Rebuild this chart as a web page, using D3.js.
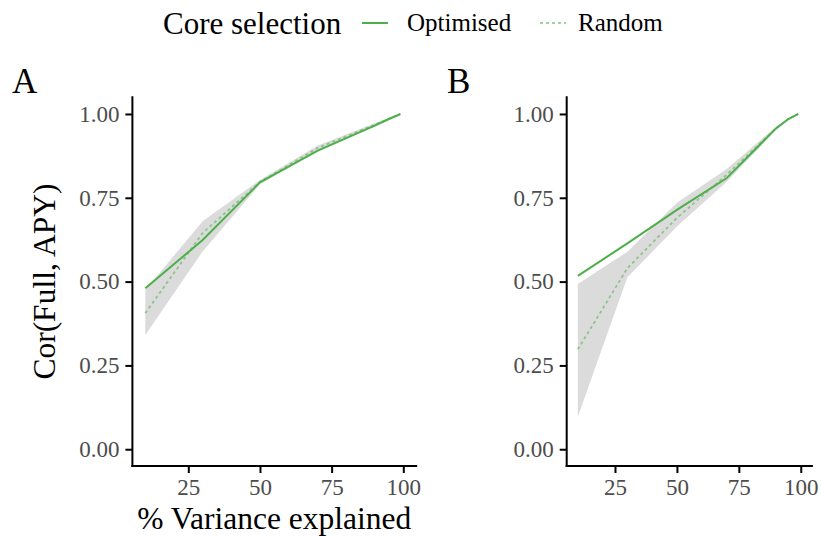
<!DOCTYPE html>
<html>
<head>
<meta charset="utf-8">
<script src="https://cdn.jsdelivr.net/npm/d3@7"></script>
<style>
  html, body { margin: 0; padding: 0; background: #fff; }
  svg { display: block; font-family: "Liberation Serif", "Times New Roman", serif; }
</style>
</head>
<body>
<svg id="chart" width="821" height="536"></svg>
<script>
// ---- data ----
const variance = [10, 30, 50, 70, 90, 95, 99];
const panels = ["A", "B"];
const optimisedA = [0.480, 0.624, 0.796, 0.890, 0.965, 0.985, 1.000];
const randomA    = [0.406, 0.645, 0.797, 0.898, 0.968, 0.986, 1.000];
const randomLoA  = [0.341, 0.590, 0.790, 0.890, 0.962, 0.983, 0.999];
const randomHiA  = [0.475, 0.680, 0.803, 0.905, 0.972, 0.988, 1.000];
const optimisedB = [0.517, 0.614, 0.714, 0.808, 0.957, 0.985, 1.000];
const randomB    = [0.298, 0.540, 0.690, 0.818, 0.957, 0.985, 1.000];
const randomLoB  = [0.097, 0.513, 0.664, 0.797, 0.952, 0.982, 0.999];
const randomHiB  = [0.493, 0.589, 0.735, 0.835, 0.962, 0.988, 1.000];
const xTicks = [25, 50, 75, 100];
const yTicks = [0, 0.25, 0.5, 0.75, 1.0];
const seriesNames = ["Optimised", "Random"];

const colOpt = "#4DAF4A";
const svg = d3.select("#chart");

const panelDefs = [
  {label: "A", x0: 132.4, x1: 416.2, labelX: 12, opt: optimisedA, rnd: randomA, lo: randomLoA, hi: randomHiA, yTitle: true, xTitle: true},
  {label: "B", x0: 566.7, x1: 811.9, labelX: 447, opt: optimisedB, rnd: randomB, lo: randomLoB, hi: randomHiB, yTitle: false, xTitle: false}
];
const yTop = 97.2, yBot = 466;

panelDefs.forEach(p => {
  const x = d3.scaleLinear().domain([5.5, 104.5]).range([p.x0, p.x1]);
  const y = d3.scaleLinear().domain([-0.05, 1.05]).range([yBot, yTop]);
  const g = svg.append("g");

  // ribbon
  const area = d3.area()
    .x((d, i) => x(variance[i]))
    .y0((d, i) => y(p.lo[i]))
    .y1((d, i) => y(p.hi[i]));
  g.append("path").datum(variance).attr("d", area)
    .attr("fill", "#999999").attr("fill-opacity", 0.35);

  const line = arr => d3.line().curve(d3.curveMonotoneX)
    .x((d, i) => x(variance[i])).y((d, i) => y(arr[i]))(variance);
  const lineLin = arr => d3.line()
    .x((d, i) => x(variance[i])).y((d, i) => y(arr[i]))(variance);
  g.append("path").attr("d", lineLin(p.rnd)).attr("fill", "none")
    .attr("stroke", colOpt).attr("stroke-opacity", 0.55).attr("stroke-width", 1.8)
    .attr("stroke-dasharray", "3,3");
  g.append("path").attr("d", lineLin(p.opt)).attr("fill", "none")
    .attr("stroke", colOpt).attr("stroke-width", 2);

  // axes
  const xAxis = d3.axisBottom(x).tickValues(xTicks).tickSize(7).tickPadding(6).tickFormat(d3.format("d"));
  const yAxis = d3.axisLeft(y).tickValues(yTicks).tickSize(7).tickPadding(6).tickFormat(d3.format(".2f"));
  const gx = g.append("g").attr("transform", `translate(0,${yBot})`).call(xAxis);
  const gy = g.append("g").attr("transform", `translate(${p.x0},0)`).call(yAxis);
  [gx, gy].forEach(a => {
    a.select(".domain").remove();
    a.selectAll(".tick line").attr("stroke", "#000").attr("stroke-width", 2);
    a.selectAll(".tick text").attr("fill", "#4d4d4d")
      .style("font-family", "Liberation Serif").style("font-size", "23px");
  });
  gx.selectAll(".tick text").attr("dy", "0.71em");
  // axis lines
  g.append("line").attr("x1", p.x0).attr("x2", p.x1).attr("y1", yBot).attr("y2", yBot)
    .attr("stroke", "#000").attr("stroke-width", 2).attr("stroke-linecap", "square");
  g.append("line").attr("x1", p.x0).attr("x2", p.x0).attr("y1", yTop).attr("y2", yBot)
    .attr("stroke", "#000").attr("stroke-width", 2).attr("stroke-linecap", "square");

  // panel label
  svg.append("text").attr("x", p.labelX).attr("y", 93).text(p.label)
    .style("font-size", "35px").attr("fill", "#000");

  if (p.xTitle) {
    svg.append("text").attr("x", (p.x0 + p.x1) / 2).attr("y", 529)
      .attr("text-anchor", "middle").style("font-size", "31.5px").text("% Variance explained");
  }
  if (p.yTitle) {
    svg.append("text").attr("transform", `translate(55,${(yTop + yBot) / 2}) rotate(-90)`)
      .attr("text-anchor", "middle").style("font-size", "31.5px").text("Cor(Full, APY)");
  }
});

// legend
svg.append("text").attr("x", 163).attr("y", 34).style("font-size", "31px").text("Core selection");
const leg = svg.append("g");
const keys = [
  {name: seriesNames[0], lx: 362, tx: 407, dash: null, op: 1},
  {name: seriesNames[1], lx: 540, tx: 578, dash: "3,3", op: 0.55}
];
keys.forEach(k => {
  leg.append("line").attr("x1", k.lx).attr("x2", k.lx + 26).attr("y1", 23).attr("y2", 23)
    .attr("stroke", colOpt).attr("stroke-width", 2).attr("stroke-opacity", k.op)
    .attr("stroke-dasharray", k.dash);
  leg.append("text").attr("x", k.tx).attr("y", 31).style("font-size", "25px").text(k.name);
});
</script>
</body>
</html>
